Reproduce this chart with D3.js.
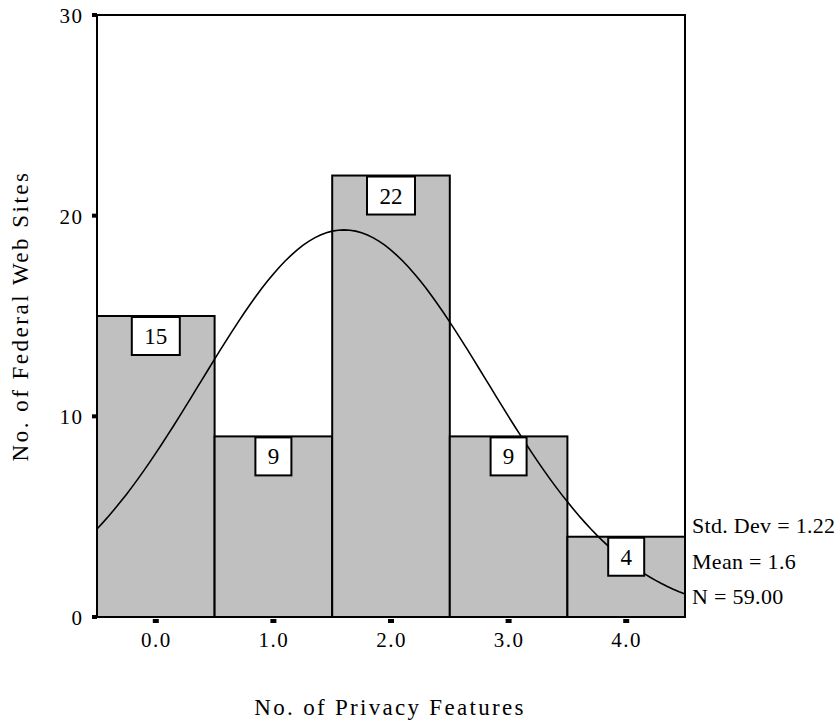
<!DOCTYPE html>
<html>
<head>
<meta charset="utf-8">
<script src="https://cdn.jsdelivr.net/npm/d3@7"></script>
<style>
  html, body { margin: 0; padding: 0; background: #fff; }
  svg { display: block; }
</style>
</head>
<body>
<svg id="chart" width="837" height="725"></svg>
<script>
// Histogram of privacy features found on federal web sites
const binCenters = [0, 1, 2, 3, 4];
const binLabels = ["0.0", "1.0", "2.0", "3.0", "4.0"];
const counts = [15, 9, 22, 9, 4];
const yTicks = [0, 10, 20, 30];
const statLabels = ["Std. Dev = 1.22", "Mean = 1.6", "N = 59.00"];
const stdDev = 1.22;
const mean = 1.6;
const total = 59;
const binWidth = 1;

const serif = "'Liberation Serif', 'DejaVu Serif', serif";
const svg = d3.select("#chart").style("font-family", serif);
const plotL = 97, plotR = 685, plotT = 15, plotB = 617;

const x = d3.scaleLinear().domain([-0.5, 4.5]).range([plotL, plotR]);
const y = d3.scaleLinear().domain([0, 30]).range([plotB, plotT]);

function addText(g, size, spacing) {
  return g.append("text")
    .style("font-family", serif)
    .style("letter-spacing", spacing + "px")
    .attr("font-size", size)
    .attr("fill", "#000");
}

// bars
svg.append("g").selectAll("rect")
  .data(counts)
  .join("rect")
  .attr("x", (d, i) => x(binCenters[i] - binWidth / 2))
  .attr("width", (d, i) => x(binCenters[i] + binWidth / 2) - x(binCenters[i] - binWidth / 2))
  .attr("y", d => y(d))
  .attr("height", d => y(0) - y(d))
  .attr("fill", "#c0c0c0")
  .attr("stroke", "#000")
  .attr("stroke-width", 2);

// fitted normal curve
const curvePts = d3.range(-0.5, 4.5001, 0.05).map(v => {
  const z = (v - mean) / stdDev;
  return [v, total * binWidth * Math.exp(-0.5 * z * z) / (stdDev * Math.sqrt(2 * Math.PI))];
});
svg.append("path")
  .datum(curvePts)
  .attr("fill", "none")
  .attr("stroke", "#000")
  .attr("stroke-width", 1.6)
  .attr("d", d3.line().x(d => x(d[0])).y(d => y(d[1])));

// value labels in boxes at the top of each bar
const lab = svg.append("g");
counts.forEach((c, i) => {
  const txt = String(c);
  const w = txt.length > 1 ? 48 : 36;
  const cx = x(binCenters[i]);
  lab.append("rect")
    .attr("x", cx - w / 2).attr("y", y(c) + 1)
    .attr("width", w).attr("height", 38)
    .attr("fill", "#fff").attr("stroke", "#000").attr("stroke-width", 2);
  addText(lab, 23, 0)
    .attr("x", cx).attr("y", y(c) + 28)
    .attr("text-anchor", "middle")
    .text(txt);
});

// frame
svg.append("rect")
  .attr("x", plotL).attr("y", plotT)
  .attr("width", plotR - plotL).attr("height", plotB - plotT)
  .attr("fill", "none").attr("stroke", "#000").attr("stroke-width", 2);

// y axis ticks and labels
const yAxis = svg.append("g");
yTicks.forEach(t => {
  yAxis.append("rect").attr("x", plotL - 5).attr("y", y(t) - 2).attr("width", 5).attr("height", 4).attr("fill", "#000");
  addText(yAxis, 21, 1.5).attr("x", 83.5).attr("y", y(t) + 8)
    .attr("text-anchor", "end").text(t);
});

// x axis ticks and labels
const xAxis = svg.append("g");
binCenters.forEach((c, i) => {
  xAxis.append("rect").attr("x", x(c) - 3).attr("y", plotB + 2).attr("width", 6).attr("height", 4).attr("fill", "#000");
  addText(xAxis, 21, 1.5).attr("x", x(c) + 0.5).attr("y", plotB + 30)
    .attr("text-anchor", "middle").text(binLabels[i]);
});

// summary statistics
statLabels.forEach((s, i) => {
  addText(svg, 22, 0.3).attr("x", 692).attr("y", 533 + i * 35.5).text(s);
});

// axis titles
addText(svg, 23, 2.3)
  .attr("x", 390).attr("y", 715)
  .attr("text-anchor", "middle")
  .text("No. of Privacy Features");
addText(svg, 23, 2.5)
  .attr("transform", "translate(27.5,316) rotate(-90)")
  .attr("text-anchor", "middle")
  .text("No. of Federal Web Sites");
</script>
</body>
</html>
